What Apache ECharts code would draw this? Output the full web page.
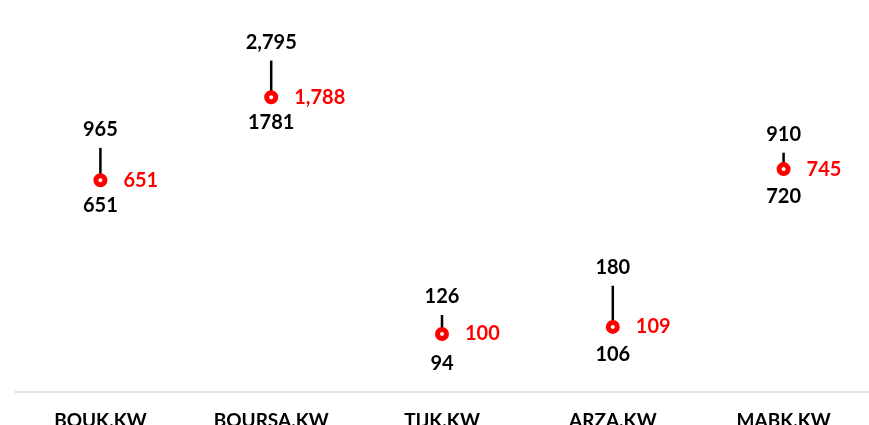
<!DOCTYPE html>
<html>
<head>
<meta charset="utf-8">
<script src="https://cdn.jsdelivr.net/npm/echarts@6/dist/echarts.min.js"></script>
<style>
  html, body { margin: 0; padding: 0; background: #fff; }
  #chart { width: 869px; height: 425px; }
</style>
</head>
<body>
<div id="chart"></div>
<script>
// tickers and 52w high / low / last price
var tickers = ['BOUK.KW', 'BOURSA.KW', 'TIJK.KW', 'ARZA.KW', 'MABK.KW'];
var highs = [965, 2795, 126, 180, 910];
var lows = [651, 1781, 94, 106, 720];
var prices = [651, 1788, 100, 109, 745];

var fontFam = 'Lato, "Open Sans", sans-serif';

function fmt(v) {
  return v.toLocaleString('en-US');
}

var chart = echarts.init(document.getElementById('chart'));

var options = {
  animation: false,
  grid: { left: 15, right: 0, top: 0, bottom: 33, outerBoundsMode: 'none' },
  xAxis: {
    type: 'category',
    data: tickers,
    axisLine: { lineStyle: { color: '#d9d9d9', width: 1.5 } },
    axisTick: { show: false },
    axisLabel: {
      color: '#000',
      fontFamily: fontFam,
      fontWeight: 'bold',
      fontSize: 19,
      margin: 19
    }
  },
  yAxis: {
    type: 'log',
    min: 49.3,
    max: 5848,
    show: false,
    splitLine: { show: false }
  },
  series: [
    {
      // high-low range stick
      type: 'custom',
      data: tickers.map(function (t, i) { return [i, highs[i], lows[i]]; }),
      renderItem: function (params, api) {
        var top = api.coord([api.value(0), api.value(1)]);
        var bot = api.coord([api.value(0), api.value(2)]);
        return {
          type: 'line',
          shape: { x1: top[0], y1: top[1], x2: bot[0], y2: bot[1] },
          style: { stroke: '#000', lineWidth: 2.5 }
        };
      },
      z: 2
    },
    {
      // high labels
      type: 'scatter',
      data: highs,
      symbolSize: 0,
      itemStyle: { opacity: 1 },
      label: {
        show: true,
        position: 'top',
        distance: 8,
        color: '#000',
        fontFamily: fontFam,
        fontWeight: 'bold',
        fontSize: 20,
        formatter: function (p) { return fmt(p.value); }
      },
      z: 3
    },
    {
      // low labels
      type: 'scatter',
      data: lows,
      symbolSize: 0,
      itemStyle: { opacity: 1 },
      label: {
        show: true,
        position: 'bottom',
        distance: 15,
        color: '#000',
        fontFamily: fontFam,
        fontWeight: 'bold',
        fontSize: 20,
        formatter: function (p) { return String(p.value); }
      },
      z: 3
    },
    {
      // last price marker
      type: 'scatter',
      data: prices,
      symbol: 'circle',
      symbolSize: 9,
      itemStyle: { color: '#fff', borderColor: '#ff0000', borderWidth: 5, opacity: 1 },
      label: {
        show: true,
        position: 'right',
        distance: 16,
        color: '#ff0000',
        fontFamily: fontFam,
        fontWeight: 'bold',
        fontSize: 20,
        formatter: function (p) { return fmt(p.value); }
      },
      z: 4
    }
  ]
};

chart.setOption(options);
</script>
</body>
</html>
